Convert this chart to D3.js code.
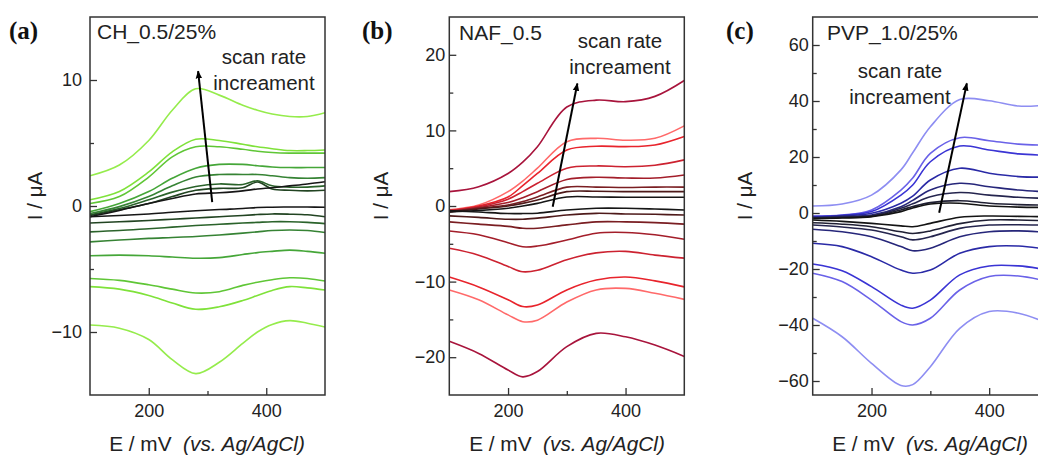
<!DOCTYPE html>
<html>
<head>
<meta charset="utf-8">
<script src="https://cdn.jsdelivr.net/npm/d3@7"></script>
<style>
  body { margin: 0; background: #fff; }
  svg { display: block; font-family: "Liberation Sans", Arial, sans-serif; }
</style>
</head>
<body>
<svg id="chart" width="1038" height="458"></svg>
<script>
// ---- panel (a): CH_0.5/25% ----
const chPotential = [100, 150, 200, 240, 280, 320, 360, 385, 410, 440, 470, 500];
const chAnodic = [
  [2.4, 3.25, 5.2, 7.6, 9.3, 8.8, 8.0, 7.6, 7.3, 7.1, 7.1, 7.4],
  [0.5, 1.15, 2.7, 4.3, 5.3, 5.2, 4.9, 4.7, 4.55, 4.4, 4.4, 4.45],
  [0.2, 0.75, 2.3, 3.9, 4.7, 4.7, 4.5, 4.35, 4.25, 4.2, 4.2, 4.2],
  [-0.45, 0.2, 1.15, 2.2, 3.0, 3.3, 3.3, 3.2, 3.1, 3.05, 3.05, 3.05],
  [-0.6, -0.05, 0.75, 1.6, 2.3, 2.5, 2.5, 2.5, 2.4, 2.25, 2.2, 2.25],
  [-0.7, -0.2, 0.5, 1.1, 1.55, 1.75, 1.7, 2.0, 1.6, 1.5, 1.5, 1.6],
  [-0.75, -0.3, 0.2, 0.75, 1.25, 1.4, 1.45, 1.9, 1.35, 1.25, 1.2, 1.25],
  [-0.85, -0.35, 0.2, 0.6, 0.95, 1.05, 1.2, 1.35, 1.45, 1.6, 1.75, 1.93]
];
const chCathodic = [
  [-9.45, -9.7, -10.6, -12.2, -13.3, -12.4, -10.9, -10.0, -9.4, -9.1, -9.3, -9.6],
  [-6.4, -6.6, -7.1, -7.7, -8.2, -8.0, -7.5, -7.1, -6.7, -6.4, -6.5, -6.67],
  [-5.75, -5.9, -6.25, -6.6, -6.9, -6.8, -6.3, -6.05, -5.85, -5.7, -5.75, -5.95],
  [-3.95, -3.9, -3.95, -4.05, -4.15, -4.1, -3.85, -3.7, -3.6, -3.5, -3.6, -3.75],
  [-2.85, -2.7, -2.57, -2.5, -2.42, -2.3, -2.15, -2.05, -1.95, -1.9, -1.95, -2.1],
  [-2.05, -1.95, -1.8, -1.68, -1.55, -1.45, -1.35, -1.3, -1.25, -1.25, -1.3, -1.4],
  [-1.35, -1.25, -1.15, -1.05, -0.95, -0.85, -0.75, -0.68, -0.63, -0.65, -0.7, -0.85],
  [-0.85, -0.75, -0.63, -0.5, -0.38, -0.28, -0.2, -0.12, -0.1, -0.08, -0.08, -0.1]
];
const chColors = ['#95ec4c', '#7fe23a', '#5fc636', '#45a638', '#368334', '#2b632b', '#224422', '#161616'];

// ---- panel (b): NAF_0.5 ----
const nafPotential = [100, 150, 200, 225, 250, 300, 350, 400, 450, 500];
const nafAnodic = [
  [1.9, 2.55, 4.3, 5.8, 7.85, 13.1, 14.0, 13.8, 14.5, 16.6],
  [-0.5, 0.13, 1.9, 3.3, 5.0, 8.5, 8.95, 8.7, 8.95, 10.6],
  [-0.6, 0.0, 1.2, 2.7, 4.3, 7.4, 7.9, 7.85, 8.07, 9.2],
  [-0.6, -0.1, 0.9, 1.9, 3.0, 5.0, 5.3, 5.2, 5.4, 6.1],
  [-0.7, -0.2, 0.45, 1.1, 1.9, 3.5, 3.8, 3.7, 3.7, 4.1],
  [-0.75, -0.3, 0.13, 0.6, 1.2, 2.5, 2.5, 2.45, 2.5, 2.5],
  [-0.8, -0.4, 0.0, 0.35, 0.8, 1.9, 1.95, 1.9, 1.9, 1.9],
  [-0.8, -0.6, -0.3, 0.0, 0.35, 1.2, 1.2, 1.15, 1.15, 1.15]
];
const nafCathodic = [
  [-17.9, -19.5, -21.7, -22.6, -21.9, -18.6, -16.85, -17.3, -18.4, -19.9],
  [-11.1, -12.4, -14.4, -15.3, -15.1, -12.7, -11.1, -10.9, -11.55, -12.35],
  [-9.4, -10.7, -12.4, -13.3, -13.1, -11.1, -9.8, -9.4, -9.9, -10.7],
  [-5.6, -6.5, -8.0, -8.7, -8.5, -7.1, -6.2, -6.0, -6.5, -6.9],
  [-3.3, -3.8, -4.85, -5.4, -5.3, -4.5, -3.6, -3.5, -3.8, -4.4],
  [-2.1, -2.4, -2.7, -2.95, -2.95, -2.5, -2.1, -2.1, -2.2, -2.4],
  [-1.3, -1.5, -1.75, -1.75, -1.6, -1.2, -0.97, -1.05, -1.1, -1.2],
  [-0.6, -0.8, -1.0, -1.0, -0.95, -0.53, -0.3, -0.3, -0.4, -0.53]
];
const nafColors = ['#a8143c', '#ff6a6a', '#e8242c', '#cc2230', '#a31e2a', '#7a1e22', '#4e1a1a', '#161616'];

// ---- panel (c): PVP_1.0/25% ----
const pvpPotential = [100, 150, 200, 250, 270, 300, 350, 400, 450, 500];
const pvpAnodic = [
  [2.5, 3.2, 6.4, 15.4, 21.5, 30.8, 40.5, 40.1, 38.2, 38.6],
  [-1.1, -0.7, 1.1, 8.2, 12.5, 21.3, 26.9, 25.8, 24.6, 24.2],
  [-1.3, -0.8, 0.5, 6.4, 10.0, 18.3, 23.9, 22.5, 21.1, 20.6],
  [-1.5, -1.0, -0.1, 3.5, 6.0, 11.8, 16.0, 14.2, 13.0, 12.8],
  [-1.6, -1.2, -0.7, 2.25, 4.5, 8.2, 10.6, 9.4, 8.2, 7.5],
  [-1.8, -1.5, -1.0, 1.7, 3.3, 5.8, 7.3, 6.4, 5.6, 5.2],
  [-1.9, -1.6, -1.2, 1.1, 2.3, 3.7, 4.4, 3.5, 3.0, 2.8],
  [-2.0, -1.8, -1.3, 0.5, 1.8, 3.2, 3.5, 2.5, 2.1, 2.0]
];
const pvpCathodic = [
  [-37.6, -44.2, -53.7, -61.6, -61.3, -54.9, -41.2, -35.2, -35.8, -39.5],
  [-21.5, -24.5, -31.1, -38.8, -40.0, -37.6, -27.5, -22.7, -22.5, -24.5],
  [-18.2, -20.6, -26.3, -32.9, -34.0, -31.1, -22.1, -18.9, -18.9, -20.4],
  [-10.8, -12.0, -15.6, -20.4, -21.5, -20.4, -14.4, -12.0, -11.8, -13.0],
  [-5.8, -6.7, -8.5, -12.0, -13.5, -12.6, -8.5, -6.7, -6.4, -6.9],
  [-4.3, -5.0, -6.1, -8.5, -9.6, -8.5, -5.5, -4.3, -4.2, -4.4],
  [-3.5, -4.0, -4.9, -6.7, -7.3, -6.4, -3.8, -2.5, -2.5, -2.8],
  [-2.5, -3.0, -3.7, -4.6, -4.9, -3.7, -1.5, -1.07, -1.2, -1.35]
];
const pvpColors = ['#8e8ef2', '#6a62e8', '#3a34d4', '#2a2aa6', '#26267a', '#25254e', '#202034', '#141414'];

// axes
const potentialRange = [100, 500];
const potentialTicks = [200, 400];
const potentialMinor = [300];
const currentRanges = [[-15, 15], [-25, 25], [-65, 70]];
const currentTicks = [[-10, 0, 10], [-20, -10, 0, 10, 20], [-60, -40, -20, 0, 20, 40, 60]];
const currentMinor = [[-5, 5], [-15, -5, 5, 15], [-50, -30, -10, 10, 30, 50]];
const panelLabels = ['(a)', '(b)', '(c)'];
const sampleNames = ['CH_0.5/25%', 'NAF_0.5', 'PVP_1.0/25%'];
// arrow start/end in data units [E, I]
const arrowFrom = [[308, 0.3], [276, -0.1], [315, 0.1]];
const arrowTo = [[284, 10.7], [318, 16.2], [362, 46.3]];

const panels = [
  { potential: chPotential, anodic: chAnodic, cathodic: chCathodic, colors: chColors,
    left: 90, right: 325, pad: 8, yTitleX: 35, labelX: 9, nameX: 97, nameY: 39,
    noteX: 264, noteY: 64, titleX: 207 },
  { potential: nafPotential, anodic: nafAnodic, cathodic: nafCathodic, colors: nafColors,
    left: 449.3, right: 684.3, pad: 4, yTitleX: 381, labelX: 362, nameX: 459, nameY: 40,
    noteX: 620, noteY: 48, titleX: 567 },
  { potential: pvpPotential, anodic: pvpAnodic, cathodic: pvpCathodic, colors: pvpColors,
    left: 812.7, right: 1048, pad: 4, yTitleX: 745, labelX: 726, nameX: 827, nameY: 40,
    noteX: 900, noteY: 78, titleX: 930 }
];

const plotTop = 17, plotBottom = 395;
const svg = d3.select('#chart');

svg.append('defs').append('marker')
  .attr('id', 'arrowhead')
  .attr('viewBox', '0 0 10 10')
  .attr('refX', 9).attr('refY', 5)
  .attr('markerWidth', 8).attr('markerHeight', 8)
  .attr('markerUnits', 'userSpaceOnUse')
  .attr('orient', 'auto')
  .append('path')
  .attr('d', 'M0,1 L10,5 L0,9 Z')
  .attr('fill', '#000');

panels.forEach((p, i) => {
  const x = d3.scaleLinear().domain(potentialRange).range([p.left, p.right]);
  const y = d3.scaleLinear().domain(currentRanges[i]).range([plotBottom, plotTop]);

  const g = svg.append('g');

  const clipId = 'clip' + i;
  g.append('clipPath').attr('id', clipId)
    .append('rect')
    .attr('x', p.left).attr('y', plotTop)
    .attr('width', p.right - p.left).attr('height', plotBottom - plotTop);

  const line = d3.line()
    .x(d => x(d[0]))
    .y(d => y(d[1]))
    .curve(d3.curveCatmullRom.alpha(0.5));

  const curves = g.append('g').attr('clip-path', `url(#${clipId})`);
  // draw light/large first, black last
  p.anodic.forEach((vals, k) => {
    [vals, p.cathodic[k]].forEach(branch => {
      curves.append('path')
        .attr('d', line(p.potential.map((e, j) => [e, branch[j]])))
        .attr('fill', 'none')
        .attr('stroke', p.colors[k])
        .attr('stroke-width', 1.6);
    });
  });

  // axes, ticks pointing inward
  g.append('g').attr('transform', `translate(${p.left},0)`)
    .call(d3.axisLeft(y).tickValues(currentTicks[i]).tickSizeInner(-7).tickSizeOuter(0).tickPadding(p.pad));
  g.append('g').attr('transform', `translate(${p.left},0)`)
    .call(d3.axisLeft(y).tickValues(currentMinor[i]).tickSizeInner(-4).tickSizeOuter(0).tickFormat(''));
  g.append('g').attr('transform', `translate(0,${plotBottom})`)
    .call(d3.axisBottom(x).tickValues(potentialTicks).tickSizeInner(-7).tickSizeOuter(0).tickPadding(9));
  g.append('g').attr('transform', `translate(0,${plotBottom})`)
    .call(d3.axisBottom(x).tickValues(potentialMinor).tickSizeInner(-4).tickSizeOuter(0).tickFormat(''));

  g.selectAll('.domain').remove();
  g.selectAll('.tick line').attr('stroke', '#333').attr('stroke-width', 1.3);
  g.selectAll('.tick text')
    .attr('font-size', 18)
    .attr('font-family', '"Liberation Sans", Arial, sans-serif')
    .attr('fill', '#222');

  g.append('rect')
    .attr('x', p.left).attr('y', plotTop)
    .attr('width', p.right - p.left).attr('height', plotBottom - plotTop)
    .attr('fill', 'none')
    .attr('stroke', '#333')
    .attr('stroke-width', 1.5);

  // axis titles
  const xt = g.append('text')
    .attr('x', p.titleX)
    .attr('y', 451)
    .attr('text-anchor', 'middle')
    .attr('font-size', 20.8)
    .attr('fill', '#222');
  xt.append('tspan').text('E / mV\u00a0\u00a0');
  xt.append('tspan').attr('font-style', 'italic').text('(vs. Ag/AgCl)');

  g.append('text')
    .attr('transform', `translate(${p.yTitleX + 7},196) rotate(-90)`)
    .attr('text-anchor', 'middle')
    .attr('font-size', 20.5)
    .attr('fill', '#222')
    .text('I / \u03bcA');

  // panel label and sample name
  g.append('text')
    .attr('x', p.labelX).attr('y', 39)
    .attr('font-family', '"Liberation Serif", "DejaVu Serif", serif')
    .attr('font-weight', 'bold')
    .attr('font-size', 25)
    .attr('fill', '#111')
    .text(panelLabels[i]);

  g.append('text')
    .attr('x', p.nameX).attr('y', p.nameY)
    .attr('font-size', 21)
    .attr('fill', '#222')
    .text(sampleNames[i]);

  // scan rate note and arrow
  const note = g.append('text')
    .attr('text-anchor', 'middle')
    .attr('font-size', 20.5)
    .attr('fill', '#222');
  note.append('tspan').attr('x', p.noteX).attr('y', p.noteY).text('scan rate');
  note.append('tspan').attr('x', p.noteX).attr('y', p.noteY + 26).text('increament');

  g.append('line')
    .attr('x1', x(arrowFrom[i][0])).attr('y1', y(arrowFrom[i][1]))
    .attr('x2', x(arrowTo[i][0])).attr('y2', y(arrowTo[i][1]))
    .attr('stroke', '#000')
    .attr('stroke-width', 2)
    .attr('marker-end', 'url(#arrowhead)');
});
</script>
</body>
</html>
